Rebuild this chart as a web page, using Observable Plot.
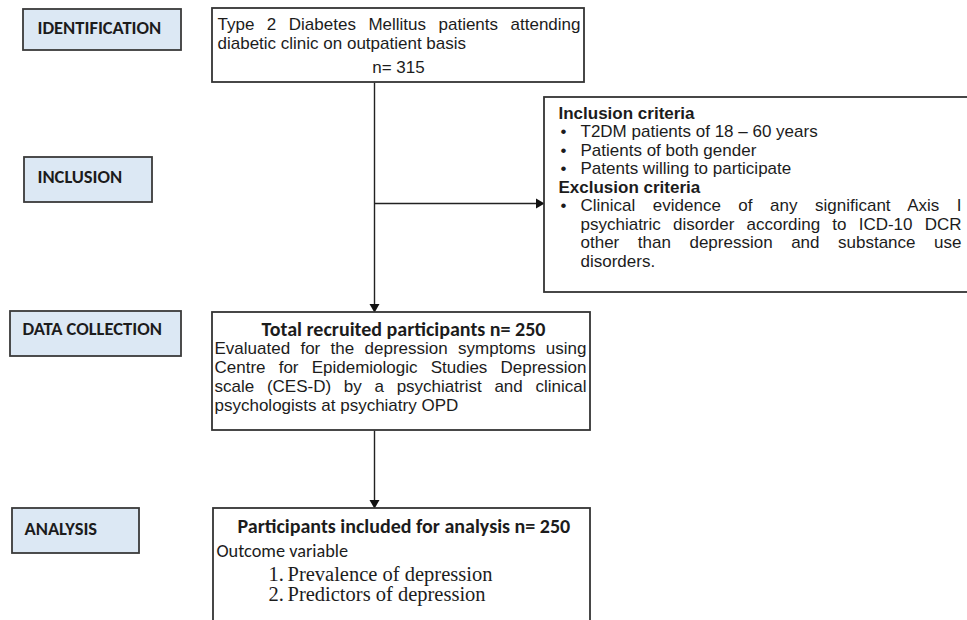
<!DOCTYPE html>
<html><head><meta charset="utf-8">
<script src="https://cdn.jsdelivr.net/npm/d3@7"></script>
<script src="https://cdn.jsdelivr.net/npm/@observablehq/plot@0.6"></script>
<style>html,body{margin:0;padding:0;background:#fff;overflow:hidden}#chart svg{display:block;overflow:hidden}</style>
</head><body><div id="chart"></div>
<script>
// ---------- content ----------
const screenedN = 315;
const recruitedN = 250;
const analysedN = 250;
const stageLabels = ["IDENTIFICATION", "INCLUSION", "DATA COLLECTION", "ANALYSIS"];
const screeningText = ["Type 2 Diabetes Mellitus patients attending", "diabetic clinic on outpatient basis"];
const criteriaHeaders = ["Inclusion criteria", "Exclusion criteria"];
const inclusionCriteria = ["T2DM patients of 18 – 60 years", "Patients of both gender", "Patents willing to participate"];
const exclusionCriteria = ["Clinical evidence of any significant Axis I", "psychiatric disorder according to ICD-10 DCR", "other than depression and substance use", "disorders."];
const collectionTitle = "Total recruited participants n= ";
const collectionText = ["Evaluated for the depression symptoms using", "Centre for Epidemiologic Studies Depression", "scale (CES-D) by a psychiatrist and clinical", "psychologists at psychiatry OPD"];
const analysisTitle = "Participants included for analysis n= ";
const outcomeHeader = "Outcome variable";
const outcomes = ["Prevalence of depression", "Predictors of depression"];

// ---------- layout ----------
const W = 967, H = 620;
const stageGeom = [
  {x1: 23, x2: 181, y1: 9, y2: 50, tx: 37, ty: 33},
  {x1: 24, x2: 152, y1: 157, y2: 202, tx: 37, ty: 182},
  {x1: 10, x2: 181, y1: 311, y2: 356, tx: 22, ty: 334},
  {x1: 12, x2: 139, y1: 508, y2: 553, tx: 24, ty: 534}
];
const stageBoxes = stageLabels.map((label, i) => ({label, ...stageGeom[i]}));
const contentBoxes = [
  {x1: 212, x2: 584, y1: 8, y2: 82},
  {x1: 544, x2: 980, y1: 97, y2: 292},
  {x1: 212, x2: 590, y1: 312, y2: 430},
  {x1: 213, x2: 590, y1: 508, y2: 640}
];
const connectors = [
  {x1: 374, y1: 82, x2: 374, y2: 312},
  {x1: 374, y1: 203, x2: 544, y2: 203},
  {x1: 374, y1: 430, x2: 374, y2: 508}
];
const critStep = 18.5, critTop = 118.3;

// plain Arial lines (left aligned)
const plainLines = [
  {text: screeningText[1], x: 217, y: 48},
  ...inclusionCriteria.map((t, i) => ({text: t, x: 580, y: critTop + critStep * (i + 1)})),
  ...inclusionCriteria.map((t, i) => ({text: "•", x: 560, y: critTop + critStep * (i + 1)})),
  {text: "•", x: 560, y: critTop + critStep * 5},
  {text: exclusionCriteria[3], x: 580, y: critTop + critStep * 8},
  {text: collectionText[3], x: 214, y: 410}
];
// justified Arial lines (stretched to the right margin)
const justLines = [
  {text: screeningText[0], x: 217, y: 29, right: 580},
  ...exclusionCriteria.slice(0, 3).map((t, i) => ({text: t, x: 580, y: critTop + critStep * (5 + i), right: 961})),
  ...collectionText.slice(0, 3).map((t, i) => ({text: t, x: 214, y: 353 + 19 * i, right: 586}))
];
const boldArial = criteriaHeaders.map((t, i) => ({text: t, x: 558, y: critTop + critStep * 4 * i}));
const centeredLines = [{text: "n= " + screenedN, x: 398, y: 72}];
const calibriBold = [
  {text: collectionTitle + recruitedN, x: 261, y: 335},
  {text: analysisTitle + analysedN, x: 237, y: 532.5}
];
const calibriReg = [{text: outcomeHeader, x: 216, y: 556.5}];
const serifNums = outcomes.map((t, i) => ({text: (i + 1) + ".", x: 268, y: 580 + 20 * i}));
const serifText = outcomes.map((t, i) => ({text: t, x: 287, y: 580 + 20 * i}));

const ARIAL = "'Liberation Sans', Arial, sans-serif";
const CALIBRI = "Carlito, Lato, sans-serif";
const SERIF = "'Liberation Serif', 'Times New Roman', serif";
const INK = "#1c1c1c";
const headOff = 5.6;
const dirx = d => Math.sign(d.x2 - d.x1), diry = d => Math.sign(d.y2 - d.y1);

const textBase = {x: "x", y: "y", text: "text", textAnchor: "start", lineAnchor: "bottom", fill: INK};

const chart = Plot.plot({
  width: W, height: H, margin: 0,
  x: {domain: [0, W], range: [0, W], axis: null},
  y: {domain: [0, H], range: [0, H], axis: null},
  style: {background: "#fff"},
  marks: [
    Plot.link(connectors, {x1: "x1", y1: "y1", x2: d => d.x2 - dirx(d) * 4, y2: d => d.y2 - diry(d) * 4, stroke: "#222", strokeWidth: 1.4}),
    Plot.dot(connectors, {x: d => d.x2 - dirx(d) * headOff, y: d => d.y2 - diry(d) * headOff, symbol: "triangle", r: 3.7, fill: "#111", stroke: "none", rotate: d => dirx(d) ? 90 : 180}),
    Plot.rect(contentBoxes, {x1: "x1", x2: "x2", y1: "y1", y2: "y2", fill: "white", stroke: "#333", strokeWidth: 1.8}),
    Plot.rect(stageBoxes, {x1: "x1", x2: "x2", y1: "y1", y2: "y2", fill: "#dce8f4", stroke: "#3a3a3a", strokeWidth: 1.8}),
    Plot.text(stageBoxes, {...textBase, x: "tx", y: "ty", text: "label", fontFamily: CALIBRI, fontWeight: "bold", fontSize: 18.5}),
    Plot.text(plainLines, {...textBase, fontFamily: ARIAL, fontSize: 17}),
    Plot.text(justLines, {...textBase, fontFamily: ARIAL, fontSize: 17}),
    Plot.text(boldArial, {...textBase, fontFamily: ARIAL, fontWeight: "bold", fontSize: 17}),
    Plot.text(centeredLines, {...textBase, textAnchor: "middle", fontFamily: ARIAL, fontSize: 17}),
    Plot.text(calibriBold, {...textBase, fontFamily: CALIBRI, fontWeight: "bold", fontSize: 20}),
    Plot.text(calibriReg, {...textBase, fontFamily: CALIBRI, fontSize: 18.3}),
    Plot.text(serifNums, {...textBase, fontFamily: SERIF, fontSize: 20.5}),
    Plot.text(serifText, {...textBase, fontFamily: SERIF, fontSize: 20.5})
  ]
});
document.getElementById("chart").append(chart);

// justify: distribute the spare width over the word gaps
const justByText = new Map(justLines.map(d => [d.text, d]));
chart.querySelectorAll("text").forEach(el => {
  const d = justByText.get(el.textContent);
  if (!d) return;
  const natural = el.getComputedTextLength();
  const spaces = (d.text.match(/ /g) || []).length;
  if (spaces > 0) el.setAttribute("word-spacing", ((d.right - d.x - natural) / spaces).toFixed(2));
});
</script>
</body></html>
